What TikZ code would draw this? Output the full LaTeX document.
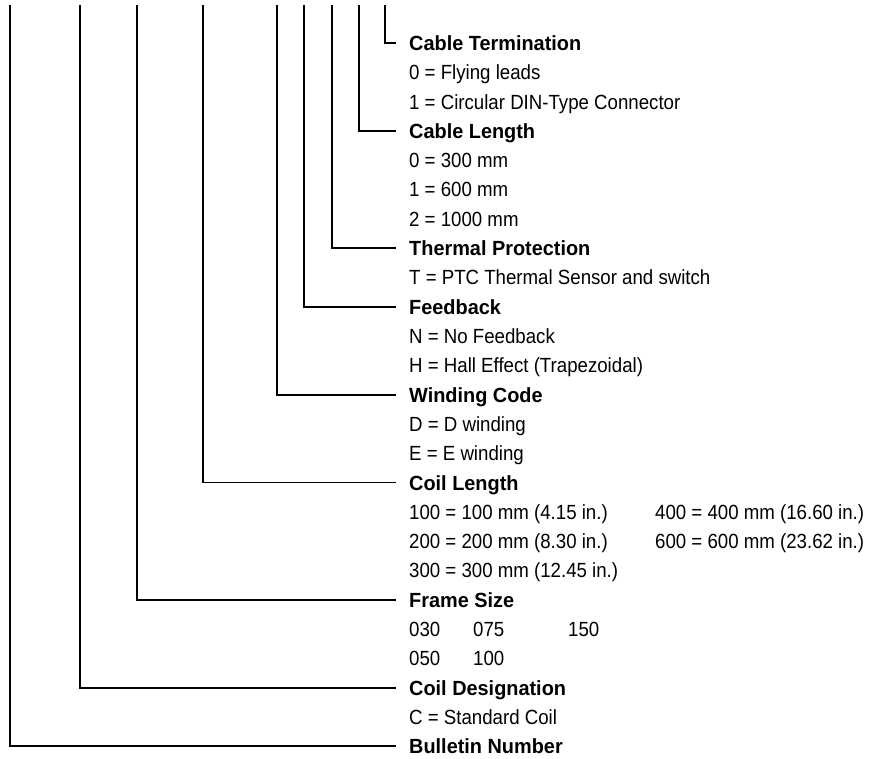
\documentclass[tikz,border=0pt]{standalone}
\usepackage{fontspec}
\setmainfont{Liberation Sans}[FakeStretch=0.91,BoldFeatures={FakeStretch=0.97}]
\begin{document}
\begin{tikzpicture}[x=1pt,y=-1pt,
  conn/.style={draw=black,line width=1.8pt},
  thinconn/.style={draw=black,line width=1.3pt},
  hdr/.style={anchor=base west,inner sep=0pt,font=\fontsize{20.5}{24}\selectfont\bfseries},
  itm/.style={anchor=base west,inner sep=0pt,font=\fontsize{20.5}{24}\selectfont}]
\useasboundingbox (0,0) rectangle (873,759);
\def\tx{409}
\def\ex{396}
\def\ly#1{43+29.3*#1+7.5}
% text
\node[hdr] (hCT) at (\tx,{\ly{0}}) {Cable Termination};
\node[itm] (i1) at (\tx,{\ly{1}}) {0 = Flying leads};
\node[itm] (i2) at (\tx,{\ly{2}}) {1 = Circular DIN-Type Connector};
\node[hdr] (hCL) at (\tx,{\ly{3}}) {Cable Length};
\node[itm] (i4) at (\tx,{\ly{4}}) {0 = 300 mm};
\node[itm] (i5) at (\tx,{\ly{5}}) {1 = 600 mm};
\node[itm] (i6) at (\tx,{\ly{6}}) {2 = 1000 mm};
\node[hdr] (hTP) at (\tx,{\ly{7}}) {Thermal Protection};
\node[itm] (i8) at (\tx,{\ly{8}}) {T = PTC Thermal Sensor and switch};
\node[hdr] (hFB) at (\tx,{\ly{9}}) {Feedback};
\node[itm] (i10) at (\tx,{\ly{10}}) {N = No Feedback};
\node[itm] (i11) at (\tx,{\ly{11}}) {H = Hall Effect (Trapezoidal)};
\node[hdr] (hWC) at (\tx,{\ly{12}}) {Winding Code};
\node[itm] (i13) at (\tx,{\ly{13}}) {D = D winding};
\node[itm] (i14) at (\tx,{\ly{14}}) {E = E winding};
\node[hdr] (hCoL) at (\tx,{\ly{15}}) {Coil Length};
\node[itm] (i16a) at (\tx,{\ly{16}}) {100 = 100 mm (4.15 in.)};
\node[itm] (i16b) at (655,{\ly{16}}) {400 = 400 mm (16.60 in.)};
\node[itm] (i17a) at (\tx,{\ly{17}}) {200 = 200 mm (8.30 in.)};
\node[itm] (i17b) at (655,{\ly{17}}) {600 = 600 mm (23.62 in.)};
\node[itm] (i18) at (\tx,{\ly{18}}) {300 = 300 mm (12.45 in.)};
\node[hdr] (hFS) at (\tx,{\ly{19}}) {Frame Size};
\node[itm] (i20a) at (\tx,{\ly{20}}) {030};
\node[itm] (i20b) at (473,{\ly{20}}) {075};
\node[itm] (i20c) at (568,{\ly{20}}) {150};
\node[itm] (i21a) at (\tx,{\ly{21}}) {050};
\node[itm] (i21b) at (473,{\ly{21}}) {100};
\node[hdr] (hCD) at (\tx,{\ly{22}}) {Coil Designation};
\node[itm] (i23) at (\tx,{\ly{23}}) {C = Standard Coil};
\node[hdr] (hBN) at (\tx,{\ly{24}}) {Bulletin Number};
% connector ends
\coordinate (tCT) at (385,5);  \coordinate (eCT) at (\ex,{43+29.3*0});
\coordinate (tCL) at (359,5);  \coordinate (eCL) at (\ex,{43+29.3*3});
\coordinate (tTP) at (332,5);  \coordinate (eTP) at (\ex,{43+29.3*7});
\coordinate (tFB) at (304,5);  \coordinate (eFB) at (\ex,{43+29.3*9});
\coordinate (tWC) at (277,5);  \coordinate (eWC) at (\ex,{43+29.3*12});
\coordinate (tCoL) at (203,5); \coordinate (eCoL) at (\ex,{43+29.3*15});
\coordinate (tFS) at (137,5);  \coordinate (eFS) at (\ex,{43+29.3*19});
\coordinate (tCD) at (80,5);   \coordinate (eCD) at (\ex,{43+29.3*22});
\coordinate (tBN) at (10,5);   \coordinate (eBN) at (\ex,{43+29.3*24});
\draw[thinconn] (tCT) |- (eCT);
\draw[thinconn] (tCL) |- (eCL);
\draw[conn] (tTP) |- (eTP);
\draw[conn] (tFB) |- (eFB);
\draw[conn] (tWC) |- (eWC);
\draw[conn] (tCoL) |- (eCoL);
\draw[conn] (tFS) |- (eFS);
\draw[conn] (tCD) |- (eCD);
\draw[conn] (tBN) |- (eBN);
\end{tikzpicture}
\end{document}
